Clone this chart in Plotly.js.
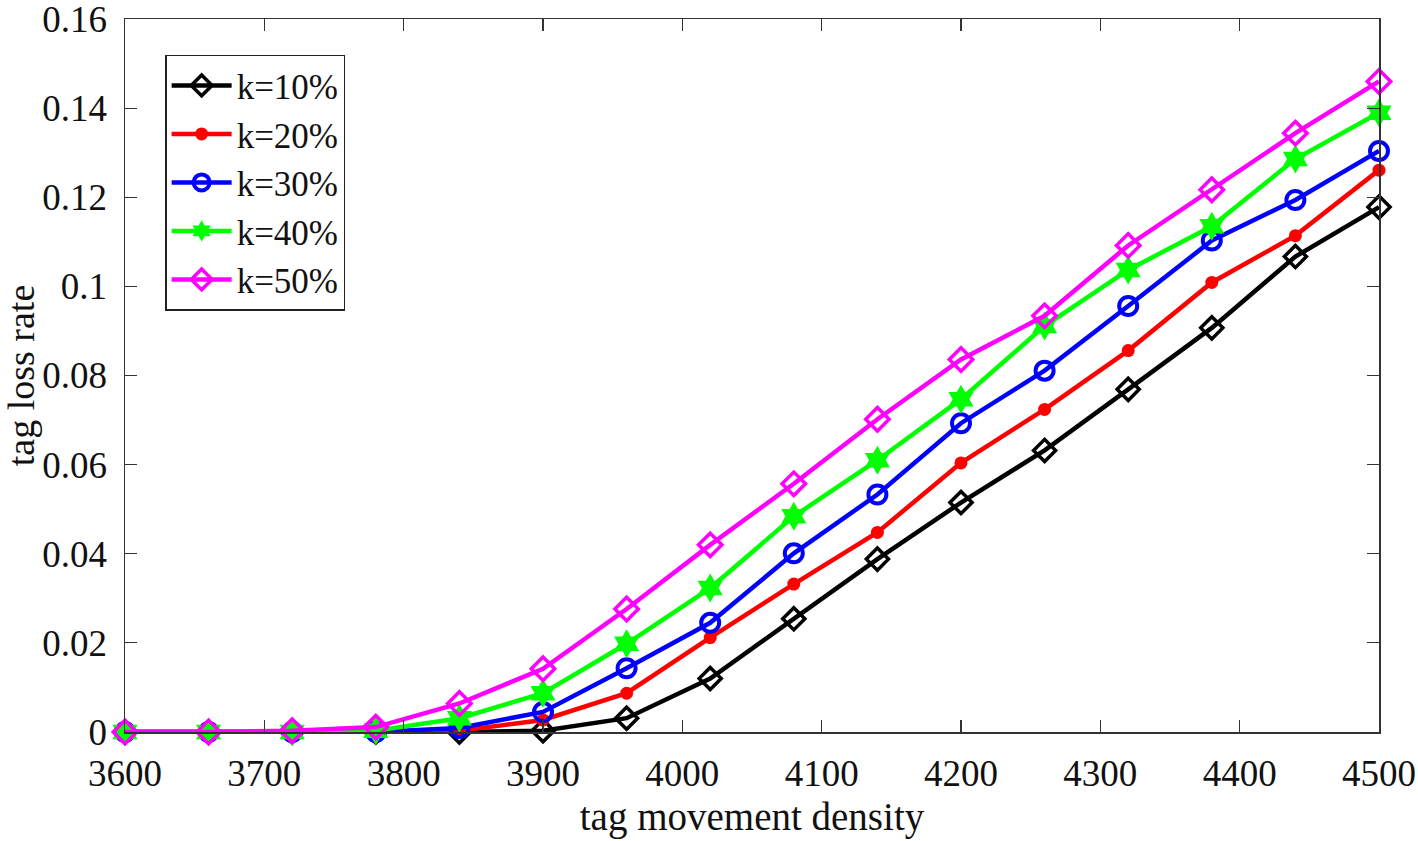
<!DOCTYPE html>
<html>
<head>
<meta charset="utf-8">
<script src="https://cdn.plot.ly/plotly-3.0.1.min.js"></script>
<style>html,body{margin:0;padding:0;background:#fff;}#chart{width:1418px;height:841px;}</style>
</head>
<body>
<div id="chart"></div>
<script>
const density = [3600, 3660, 3720, 3780, 3840, 3900, 3960, 4020, 4080, 4140, 4200, 4260, 4320, 4380, 4440, 4500];
const k10 = [0, 0, 0, 0, 0, 0.0003, 0.0031, 0.0120, 0.0254, 0.0388, 0.0515, 0.0632, 0.0769, 0.0907, 0.1067, 0.1178];
const k20 = [0, 0, 0, 0, 0.0003, 0.0027, 0.0087, 0.0212, 0.0332, 0.0448, 0.0604, 0.0724, 0.0856, 0.1009, 0.1114, 0.1261];
const k30 = [0, 0, 0, 0, 0.0009, 0.0045, 0.0143, 0.0245, 0.0401, 0.0533, 0.0693, 0.0811, 0.0956, 0.1103, 0.1194, 0.1304];
const k40 = [0, 0, 0, 0.0003, 0.0031, 0.0087, 0.0198, 0.0323, 0.0484, 0.0610, 0.0747, 0.0911, 0.1037, 0.1135, 0.1286, 0.1390];
const k50 = [0, 0, 0.0003, 0.0011, 0.0064, 0.0142, 0.0276, 0.0420, 0.0557, 0.0702, 0.0836, 0.0934, 0.1092, 0.1217, 0.1344, 0.1460];
const names = ["k=10%", "k=20%", "k=30%", "k=40%", "k=50%"];
const yTicks = [0, 0.02, 0.04, 0.06, 0.08, 0.1, 0.12, 0.14, 0.16];
const yTickText = ["0", "0.02", "0.04", "0.06", "0.08", "0.1", "0.12", "0.14", "0.16"];
const xTicks = [3600, 3700, 3800, 3900, 4000, 4100, 4200, 4300, 4400, 4500];

const font = "Liberation Serif, Times New Roman, serif";
function tr(y, name, color, symbol, size, mlw) {
  return {
    x: density, y: y, name: name, type: "scatter", mode: "lines+markers",
    line: {color: color, width: 4.5},
    marker: {symbol: symbol, size: size, color: color, line: {color: color, width: mlw}},
    cliponaxis: false
  };
}
const data = [
  tr(k10, names[0], "#000000", "diamond-open", 17, 3.5),
  tr(k20, names[1], "#ff0000", "circle", 13, 0),
  tr(k30, names[2], "#0000ff", "circle-open", 18, 4),
  tr(k40, names[3], "#00ff00", "hexagram", 22, 0),
  tr(k50, names[4], "#ff00ff", "diamond-open", 18, 3.5)
];
const axisCommon = {
  showgrid: false, zeroline: false, showline: true, mirror: "ticks",
  linecolor: "#333", linewidth: 1.5, ticks: "inside", ticklen: 12, tickwidth: 1.2, tickcolor: "#333",
  tickfont: {family: font, size: 37, color: "#111"},
  ticklabeloverflow: "allow"
};
const layout = {
  width: 1418, height: 841,
  margin: {l: 125, r: 39, t: 19, b: 109},
  paper_bgcolor: "#fff", plot_bgcolor: "#fff",
  font: {family: font, color: "#111"},
  xaxis: Object.assign({}, axisCommon, {
    range: [3600, 4500], tickvals: xTicks,
    ticklabelstandoff: 8,
    title: {text: "tag movement density", font: {family: font, size: 39, color: "#111"}, standoff: 10}
  }),
  yaxis: Object.assign({}, axisCommon, {
    range: [0, 0.16002], tickvals: yTicks, ticktext: yTickText,
    ticklabelstandoff: 9,
    title: {text: "tag loss rate", font: {family: font, size: 38, color: "#111"}, standoff: 5}
  }),
  showlegend: true,
  legend: {
    x: 0.032, y: 0.95, xanchor: "left", yanchor: "top",
    bgcolor: "#fff", bordercolor: "#222", borderwidth: 1.5,
    font: {family: font, size: 35, color: "#111"},
    tracegroupgap: 0, itemwidth: 60
  }
};
Plotly.newPlot("chart", data, layout, {displayModeBar: false, staticPlot: true});
</script>
</body>
</html>
